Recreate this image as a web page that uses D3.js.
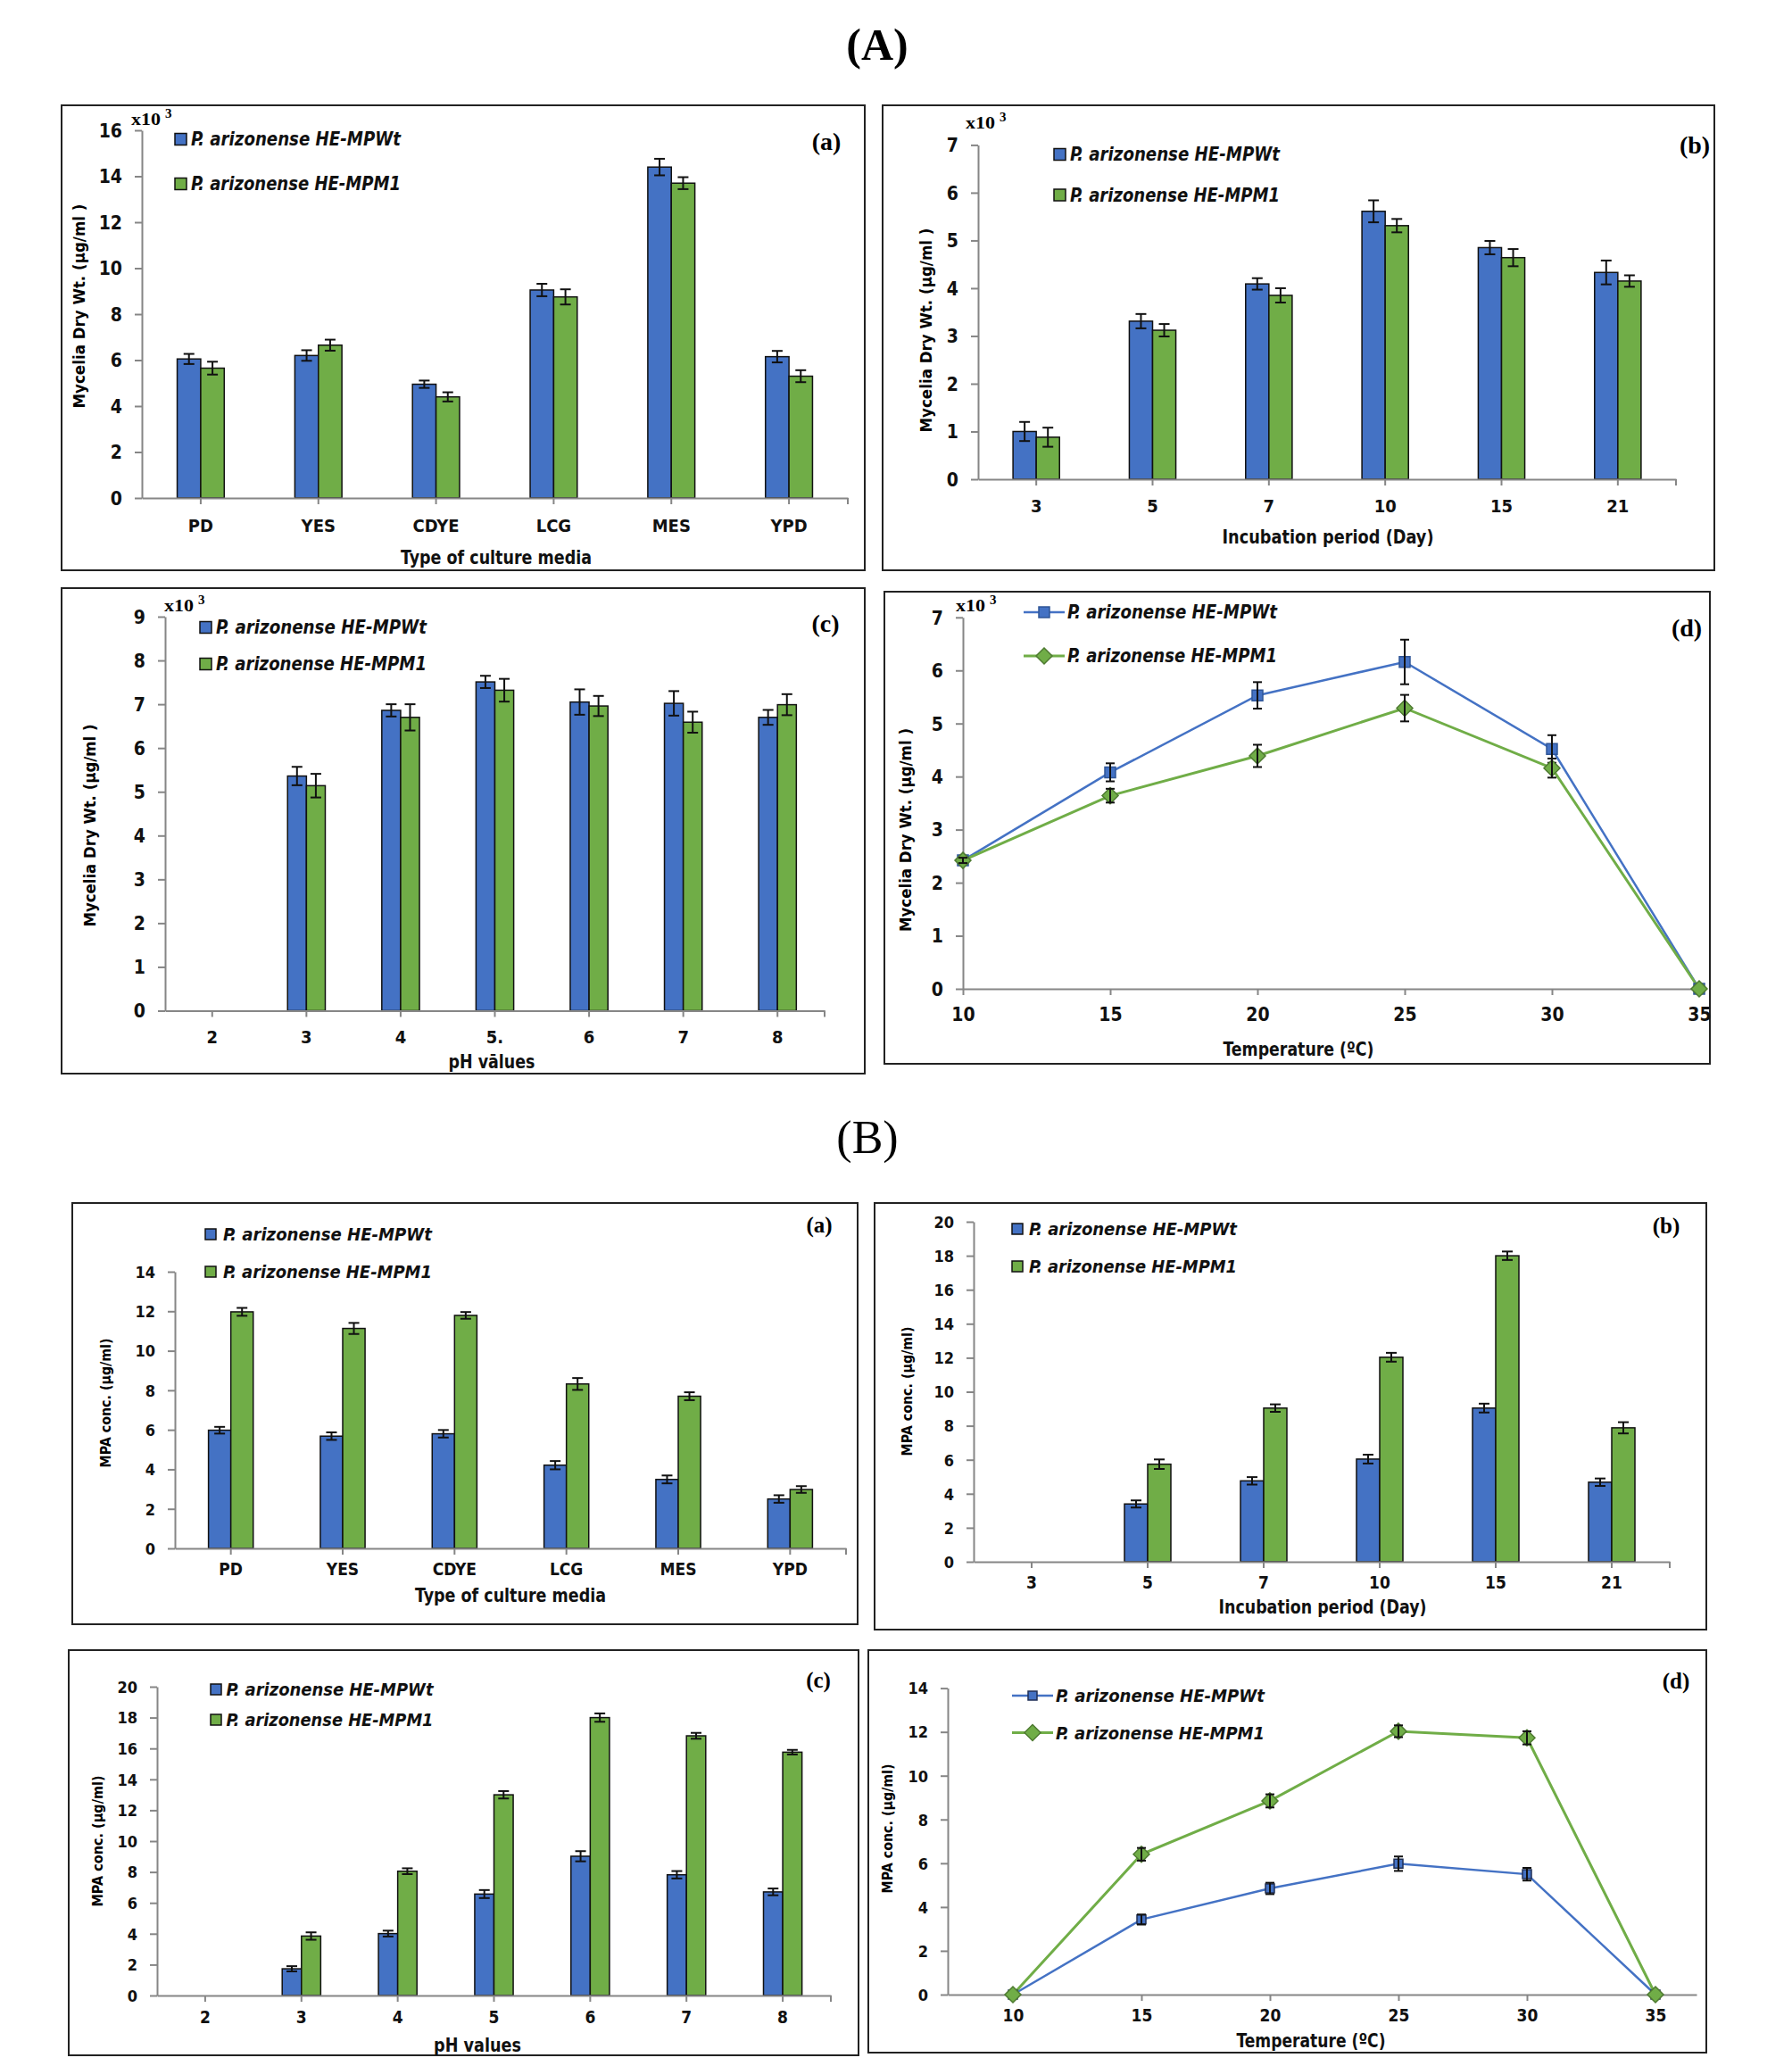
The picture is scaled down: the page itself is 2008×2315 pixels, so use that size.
<!DOCTYPE html>
<html>
<head>
<meta charset="utf-8">
<script src="https://cdn.jsdelivr.net/npm/d3@7"></script>
<style>
  body { margin: 0; background: #fff; }
</style>
</head>
<body>
<div id="main"></div>
<script>
const ctx = {
    w: 2008,
    h: 2315,
};

// series names + categories
const seriesNames = ["P. arizonense HE-MPWt", "P. arizonense HE-MPM1"];
const mediaCats = ["PD", "YES", "CDYE", "LCG", "MES", "YPD"];
const dayCats = ["3", "5", "7", "10", "15", "21"];
const phCatsA = ["2", "3", "4", "5.", "6", "7", "8"];
const phCatsB = ["2", "3", "4", "5", "6", "7", "8"];
const tempVals = [10, 15, 20, 25, 30, 35];

// tick values
const ticks16 = [0, 2, 4, 6, 8, 10, 12, 14, 16];
const ticks7 = [0, 1, 2, 3, 4, 5, 6, 7];
const ticks9 = [0, 1, 2, 3, 4, 5, 6, 7, 8, 9];
const ticks14 = [0, 2, 4, 6, 8, 10, 12, 14];
const ticks20 = [0, 2, 4, 6, 8, 10, 12, 14, 16, 18, 20];

// (A) mycelia dry wt, x10^3 ug/ml
const aMediaWt = [6.05, 6.2, 4.95, 9.05, 14.4, 6.15];
const aMediaWtErr = [0.22, 0.23, 0.16, 0.27, 0.36, 0.25];
const aMediaM1 = [5.65, 6.65, 4.4, 8.75, 13.7, 5.3];
const aMediaM1Err = [0.28, 0.24, 0.2, 0.33, 0.26, 0.26];

const aDayWt = [1.0, 3.31, 4.09, 5.61, 4.85, 4.33];
const aDayWtErr = [0.2, 0.15, 0.12, 0.23, 0.14, 0.25];
const aDayM1 = [0.88, 3.12, 3.85, 5.31, 4.64, 4.15];
const aDayM1Err = [0.2, 0.13, 0.15, 0.14, 0.18, 0.12];

const aPhWt = [0, 5.36, 6.86, 7.51, 7.05, 7.02, 6.7];
const aPhWtErr = [0, 0.21, 0.14, 0.14, 0.29, 0.28, 0.17];
const aPhM1 = [0, 5.14, 6.7, 7.32, 6.96, 6.59, 6.99];
const aPhM1Err = [0, 0.27, 0.3, 0.26, 0.23, 0.24, 0.24];

const aTempWt = [2.42, 4.08, 5.53, 6.16, 4.52, 0];
const aTempWtErr = [0.05, 0.17, 0.25, 0.42, 0.26, 0];
const aTempM1 = [2.42, 3.64, 4.39, 5.29, 4.16, 0];
const aTempM1Err = [0.05, 0.13, 0.21, 0.25, 0.18, 0];

// (B) MPA conc., ug/ml
const bMediaWt = [5.98, 5.68, 5.8, 4.21, 3.49, 2.5];
const bMediaWtErr = [0.17, 0.19, 0.19, 0.21, 0.2, 0.19];
const bMediaM1 = [11.97, 11.13, 11.79, 8.32, 7.7, 2.98];
const bMediaM1Err = [0.2, 0.28, 0.17, 0.3, 0.2, 0.17];

const bDayWt = [0, 3.4, 4.76, 6.04, 9.04, 4.68];
const bDayWtErr = [0, 0.21, 0.22, 0.26, 0.26, 0.22];
const bDayM1 = [0, 5.74, 9.04, 12.03, 18.0, 7.88];
const bDayM1Err = [0, 0.28, 0.22, 0.26, 0.25, 0.33];

const bPhWt = [0, 1.73, 4.01, 6.57, 9.02, 7.82, 6.71];
const bPhWtErr = [0, 0.17, 0.19, 0.26, 0.33, 0.24, 0.22];
const bPhM1 = [0, 3.85, 8.05, 13.0, 18.0, 16.82, 15.76];
const bPhM1Err = [0, 0.24, 0.19, 0.24, 0.27, 0.19, 0.15];

const bTempWt = [0, 3.43, 4.85, 5.98, 5.5, 0];
const bTempWtErr = [0, 0.23, 0.26, 0.33, 0.29, 0];
const bTempM1 = [0, 6.41, 8.85, 12.03, 11.73, 0];
const bTempM1Err = [0, 0.29, 0.3, 0.27, 0.3, 0];

const yLabA = "Mycelia Dry Wt. (µg/ml )";
const yLabB = "MPA conc. (µg/ml)";

const BLUE = "#4472C4", GREEN = "#70AD47";
const NARROW = '"Liberation Sans Narrow", "DejaVu Sans Condensed", "Roboto Condensed", Roboto, sans-serif';
const SERIF = '"Liberation Serif", "Times New Roman", "DejaVu Serif", serif';

const panels = [
    {kind: "bar", box: [69, 118, 969, 639], xRange: [159, 950], yRange: [558, 146], yMax: 16, yTicks: ticks16,
     cats: mediaCats, wt: aMediaWt, wtErr: aMediaWtErr, m1: aMediaM1, m1Err: aMediaM1Err,
     leg: {sx: 196, sy: [156, 206], size: 13, tx: 214, tw: 235, fs: 21},
     tag: {t: "(a)", x: 926, y: 158, fs: 28}, yLab: {t: yLabA, x: 89, y: 343, len: 229, fs: 17},
     xTitle: {t: "Type of culture media", x: 556, y: 624, len: 214, fs: 22},
     tickFs: 21, catFs: 20, xLabOff: 31, mult: {x: 147, y: 133}},
    {kind: "bar", box: [989, 118, 1921, 639], xRange: [1096, 1878], yRange: [537, 162.4], yMax: 7, yTicks: ticks7,
     cats: dayCats, wt: aDayWt, wtErr: aDayWtErr, m1: aDayM1, m1Err: aDayM1Err,
     leg: {sx: 1181, sy: [173, 218.5], size: 13, tx: 1199, tw: 235, fs: 21},
     tag: {t: "(b)", x: 1899, y: 162, fs: 28}, yLab: {t: yLabA, x: 1038, y: 370, len: 229, fs: 17},
     xTitle: {t: "Incubation period (Day)", x: 1488, y: 601, len: 237, fs: 22},
     tickFs: 21, catFs: 20, xLabOff: 30, mult: {x: 1082, y: 137}},
    {kind: "bar", box: [69, 659, 969, 1203], xRange: [185, 924], yRange: [1132.5, 691], yMax: 9, yTicks: ticks9,
     cats: phCatsA, wt: aPhWt, wtErr: aPhWtErr, m1: aPhM1, m1Err: aPhM1Err,
     leg: {sx: 224, sy: [703, 744], size: 13, tx: 242, tw: 236, fs: 21},
     tag: {t: "(c)", x: 925, y: 698, fs: 28}, yLab: {t: yLabA, x: 101, y: 925, len: 227, fs: 17},
     xTitle: {t: "pH vālues", x: 551, y: 1189, len: 97, fs: 22},
     tickFs: 21, catFs: 20, xLabOff: 29.5, mult: {x: 184, y: 678}},
    {kind: "line", box: [991, 663, 1916, 1192], xRange: [1079, 1904], pRange: [1079, 1904], yRange: [1108, 691.8], yMax: 7, yTicks: ticks7,
     xs: tempVals, wt: aTempWt, wtErr: aTempWtErr, m1: aTempM1, m1Err: aTempM1Err,
     leg: {lx: [1147, 1193], ly: [686, 735], tx: 1196, tw: 235, fs: 21},
     mk: {sq: 12, sqStroke: "#2F5597", dia: 9},
     tag: {t: "(d)", x: 1890, y: 703, fs: 28}, yLab: {t: yLabA, x: 1015, y: 930, len: 228, fs: 17},
     xTitle: {t: "Temperature (ºC)", x: 1455, y: 1175, len: 169, fs: 22},
     tickFs: 21, catFs: 21, xLabOff: 29, mult: {x: 1071, y: 678}},
    {kind: "bar", box: [81, 1348, 961, 1820], xRange: [196, 948], yRange: [1735, 1425], yMax: 14, yTicks: ticks14,
     cats: mediaCats, wt: bMediaWt, wtErr: bMediaWtErr, m1: bMediaM1, m1Err: bMediaM1Err,
     leg: {sx: 230, sy: [1383, 1425], size: 12, tx: 250, tw: 234, fs: 19},
     tag: {t: "(a)", x: 918, y: 1372, fs: 25}, yLab: {t: yLabB, x: 119, y: 1572, len: 145, fs: 15},
     xTitle: {t: "Type of culture media", x: 572, y: 1788, len: 214, fs: 21},
     tickFs: 18, catFs: 19, xLabOff: 23},
    {kind: "bar", box: [980, 1348, 1912, 1826], xRange: [1091, 1871], yRange: [1750, 1369], yMax: 20, yTicks: ticks20,
     cats: dayCats, wt: bDayWt, wtErr: bDayWtErr, m1: bDayM1, m1Err: bDayM1Err,
     leg: {sx: 1134, sy: [1377, 1419], size: 12, tx: 1153, tw: 233, fs: 19},
     tag: {t: "(b)", x: 1867, y: 1373, fs: 25}, yLab: {t: yLabB, x: 1017, y: 1559, len: 145, fs: 15},
     xTitle: {t: "Incubation period (Day)", x: 1482, y: 1801, len: 233, fs: 21},
     tickFs: 18, catFs: 19, xLabOff: 23},
    {kind: "bar", box: [77, 1849, 962, 2303], xRange: [176, 931], yRange: [2236, 1890], yMax: 20, yTicks: ticks20,
     cats: phCatsB, wt: bPhWt, wtErr: bPhWtErr, m1: bPhM1, m1Err: bPhM1Err,
     leg: {sx: 236, sy: [1893, 1927], size: 12, tx: 253.5, tw: 232, fs: 19},
     tag: {t: "(c)", x: 917, y: 1882, fs: 25}, yLab: {t: yLabB, x: 110, y: 2063, len: 147, fs: 15},
     xTitle: {t: "pH values", x: 535, y: 2292, len: 98, fs: 21},
     tickFs: 18, catFs: 19, xLabOff: 24},
    {kind: "line", box: [973, 1849, 1912, 2300], xRange: [1062, 1901], pRange: [1135, 1855], yRange: [2235, 1891.6], yMax: 14, yTicks: ticks14,
     xs: tempVals, wt: bTempWt, wtErr: bTempWtErr, m1: bTempM1, m1Err: bTempM1Err,
     leg: {lx: [1134, 1180], ly: [1900, 1941.5], tx: 1183, tw: 234, fs: 19},
     mk: {sq: 10, sqStroke: "#1F2F55", dia: 9},
     tag: {t: "(d)", x: 1878, y: 1883, fs: 25}, yLab: {t: yLabB, x: 994.5, y: 2049, len: 145, fs: 15},
     xTitle: {t: "Temperature (ºC)", x: 1469, y: 2287, len: 167, fs: 21},
     tickFs: 18, catFs: 19, xLabOff: 23},
];

// rotated square for the diamond markers
const diamondType = {
    draw(c, size) {
        const r = Math.sqrt(size / 2);
        c.moveTo(0, -r); c.lineTo(r, 0); c.lineTo(0, r); c.lineTo(-r, 0); c.closePath();
    }
};

function styleAxis(axisG, fs) {
    axisG.select(".domain").attr("stroke", "#868686").attr("stroke-width", 2);
    axisG.selectAll(".tick line").attr("stroke", "#868686").attr("stroke-width", 2);
    axisG.selectAll(".tick text")
         .attr("fill", "#111")
         .style("font-family", NARROW)
         .style("font-weight", "bold")
         .style("font-size", fs + "px");
}

function drawFrame(g, p) {
    g.append("rect")
     .attr("x", p.box[0]).attr("y", p.box[1])
     .attr("width", p.box[2] - p.box[0]).attr("height", p.box[3] - p.box[1])
     .attr("fill", "none").attr("stroke", "#222").attr("stroke-width", 2);

    g.append("text")
     .attr("x", p.tag.x).attr("y", p.tag.y)
     .attr("text-anchor", "middle").attr("dominant-baseline", "central")
     .style("font-family", SERIF).style("font-weight", "bold").style("font-size", p.tag.fs + "px")
     .text(p.tag.t);

    g.append("text")
     .attr("transform", `translate(${p.yLab.x},${p.yLab.y}) rotate(-90)`)
     .attr("text-anchor", "middle").attr("dominant-baseline", "central")
     .attr("textLength", p.yLab.len).attr("lengthAdjust", "spacingAndGlyphs")
     .style("font-family", '"DejaVu Sans", Verdana, sans-serif').style("font-weight", "bold")
     .style("font-size", p.yLab.fs + "px")
     .text(p.yLab.t);

    g.append("text")
     .attr("x", p.xTitle.x).attr("y", p.xTitle.y)
     .attr("text-anchor", "middle").attr("dominant-baseline", "central")
     .attr("textLength", p.xTitle.len).attr("lengthAdjust", "spacingAndGlyphs")
     .style("font-family", NARROW).style("font-size", p.xTitle.fs + "px")
     .style("font-weight", 600)
     .attr("fill", "#111")
     .text(p.xTitle.t);

    if (p.mult) {
        g.append("text")
         .attr("x", p.mult.x).attr("y", p.mult.y)
         .attr("dominant-baseline", "central")
         .attr("textLength", 33).attr("lengthAdjust", "spacingAndGlyphs")
         .style("font-family", SERIF).style("font-weight", "bold").style("font-size", "19px")
         .text("x10");
        g.append("text")
         .attr("x", p.mult.x + 38).attr("y", p.mult.y - 6)
         .attr("dominant-baseline", "central")
         .style("font-family", SERIF).style("font-weight", "bold").style("font-size", "15px")
         .text("3");
    }
}

function yAxisOf(g, p, yScale) {
    const ax = g.append("g")
                .attr("transform", `translate(${p.xRange[0]},0)`)
                .call(d3.axisLeft(yScale).tickValues(p.yTicks).tickSize(8).tickSizeOuter(0)
                        .tickPadding(14).tickFormat(d3.format("d")));
    styleAxis(ax, p.tickFs);
    ax.selectAll(".tick text").attr("dy", "0.35em");
}

function errorBars(g, rows, xf, yScale, cap) {
    const eb = g.selectAll(null)
                .data(rows.filter(d => d.e > 0))
                .enter().append("g");
    eb.append("line")
      .attr("x1", xf).attr("x2", xf)
      .attr("y1", d => yScale(d.v - d.e)).attr("y2", d => yScale(d.v + d.e));
    eb.append("line")
      .attr("x1", d => xf(d) - cap / 2).attr("x2", d => xf(d) + cap / 2)
      .attr("y1", d => yScale(d.v + d.e)).attr("y2", d => yScale(d.v + d.e));
    eb.append("line")
      .attr("x1", d => xf(d) - cap / 2).attr("x2", d => xf(d) + cap / 2)
      .attr("y1", d => yScale(d.v - d.e)).attr("y2", d => yScale(d.v - d.e));
    eb.selectAll("line").attr("stroke", "#111").attr("stroke-width", 2);
}

function legendText(g, p, i) {
    g.append("text")
     .attr("x", p.leg.tx).attr("y", (p.leg.sy || p.leg.ly)[i])
     .attr("dominant-baseline", "central")
     .attr("textLength", p.leg.tw).attr("lengthAdjust", "spacingAndGlyphs")
     .style("font-family", NARROW).style("font-style", "italic").style("font-weight", "bold")
     .style("font-size", p.leg.fs + "px")
     .attr("fill", "#111")
     .text(seriesNames[i]);
}

function drawBarPanel(svgEl, p) {
    const g = svgEl.append("g");
    drawFrame(g, p);

    const xScale = d3.scaleBand()
                     .domain(p.cats)
                     .range(p.xRange)
                     .paddingInner(0.6)
                     .paddingOuter(0.3);
    const xSub = d3.scaleBand().domain(["wt", "m1"]).range([0, xScale.bandwidth()]);
    const yScale = d3.scaleLinear().domain([0, p.yMax]).range(p.yRange);
    const color = d3.scaleOrdinal().domain(["wt", "m1"]).range([BLUE, GREEN]);

    const rows = [];
    p.cats.forEach((c, i) => {
        rows.push({cat: c, key: "wt", v: p.wt[i], e: p.wtErr[i]});
        rows.push({cat: c, key: "m1", v: p.m1[i], e: p.m1Err[i]});
    });

    g.selectAll(".bar")
     .data(rows.filter(d => d.v > 0))
     .enter().append("rect")
     .attr("class", "bar")
     .attr("x", d => xScale(d.cat) + xSub(d.key))
     .attr("y", d => yScale(d.v))
     .attr("width", xSub.bandwidth())
     .attr("height", d => yScale(0) - yScale(d.v))
     .attr("fill", d => color(d.key))
     .attr("stroke", "#111")
     .attr("stroke-width", 1.5);

    yAxisOf(g, p, yScale);

    const xAx = g.append("g")
                 .attr("transform", `translate(0,${p.yRange[0]})`)
                 .call(d3.axisBottom(xScale).tickSize(7).tickSizeOuter(0));
    styleAxis(xAx, p.catFs);
    xAx.selectAll(".tick text").attr("y", p.xLabOff).attr("dy", "0.35em");
    // closing tick at the right end of the category axis
    xAx.append("line")
       .attr("x1", xScale.range()[1]).attr("x2", xScale.range()[1])
       .attr("y1", 0).attr("y2", 7)
       .attr("stroke", "#868686").attr("stroke-width", 2);

    errorBars(g, rows, d => xScale(d.cat) + xSub(d.key) + xSub.bandwidth() / 2, yScale, 12);

    // legend
    ["wt", "m1"].forEach((k, i) => {
        g.append("rect")
         .attr("x", p.leg.sx).attr("y", p.leg.sy[i] - p.leg.size / 2)
         .attr("width", p.leg.size).attr("height", p.leg.size)
         .attr("fill", color(k)).attr("stroke", "#111").attr("stroke-width", 1.5);
        legendText(g, p, i);
    });
}

function drawLinePanel(svgEl, p) {
    const g = svgEl.append("g");
    drawFrame(g, p);

    const xScale = d3.scaleLinear().domain(d3.extent(p.xs)).range(p.pRange);
    const xAxisScale = xScale.copy()
                             .domain([xScale.invert(p.xRange[0]), xScale.invert(p.xRange[1])])
                             .range(p.xRange);
    const yScale = d3.scaleLinear().domain([0, p.yMax]).range(p.yRange);

    yAxisOf(g, p, yScale);

    const xAx = g.append("g")
                 .attr("transform", `translate(0,${p.yRange[0]})`)
                 .call(d3.axisBottom(xAxisScale).tickValues(p.xs).tickSize(7).tickSizeOuter(0));
    styleAxis(xAx, p.catFs);
    xAx.selectAll(".tick text").attr("y", p.xLabOff).attr("dy", "0.35em");

    const series = [
        {key: "wt", color: BLUE, width: 2.5, pts: p.xs.map((t, i) => ({t: t, v: p.wt[i], e: p.wtErr[i]}))},
        {key: "m1", color: GREEN, width: 3, pts: p.xs.map((t, i) => ({t: t, v: p.m1[i], e: p.m1Err[i]}))},
    ];
    const line = d3.line().x(d => xScale(d.t)).y(d => yScale(d.v));

    const sq = d3.symbol().type(d3.symbolSquare).size(p.mk.sq * p.mk.sq);
    const dia = d3.symbol().type(diamondType).size(2 * p.mk.dia * p.mk.dia);

    series.forEach(s => {
        g.append("path")
         .attr("d", line(s.pts))
         .attr("fill", "none")
         .attr("stroke", s.color)
         .attr("stroke-width", s.width);
    });

    series.forEach(s => {
        g.selectAll(null)
         .data(s.pts)
         .enter().append("path")
         .attr("transform", d => `translate(${xScale(d.t)},${yScale(d.v)})`)
         .attr("d", s.key === "wt" ? sq : dia)
         .attr("fill", s.color)
         .attr("stroke", s.key === "wt" ? p.mk.sqStroke : "#4E7A31")
         .attr("stroke-width", 1.5);
        errorBars(g, s.pts, d => xScale(d.t), yScale, 10);
    });

    // legend
    series.forEach((s, i) => {
        const ly = p.leg.ly[i];
        g.append("line")
         .attr("x1", p.leg.lx[0]).attr("x2", p.leg.lx[1])
         .attr("y1", ly).attr("y2", ly)
         .attr("stroke", s.color).attr("stroke-width", s.width);
        g.append("path")
         .attr("transform", `translate(${(p.leg.lx[0] + p.leg.lx[1]) / 2},${ly})`)
         .attr("d", s.key === "wt" ? sq : dia)
         .attr("fill", s.color)
         .attr("stroke", s.key === "wt" ? p.mk.sqStroke : "#4E7A31")
         .attr("stroke-width", 1.5);
        legendText(g, p, i);
    });
}

function createViz() {
    const svgEl = d3.select("#main").append("svg")
                    .attr("width", ctx.w)
                    .attr("height", ctx.h)
                    .style("background", "#fff");

    svgEl.append("text")
         .attr("x", 983).attr("y", 67)
         .attr("text-anchor", "middle")
         .style("font-family", SERIF).style("font-weight", "bold").style("font-size", "50px")
         .text("(A)");
    svgEl.append("text")
         .attr("x", 972).attr("y", 1292)
         .attr("text-anchor", "middle")
         .style("font-family", SERIF).style("font-size", "52px")
         .text("(B)");

    panels.forEach(p => {
        if (p.kind === "bar") drawBarPanel(svgEl, p);
        else drawLinePanel(svgEl, p);
    });
}

createViz();
</script>
</body>
</html>
